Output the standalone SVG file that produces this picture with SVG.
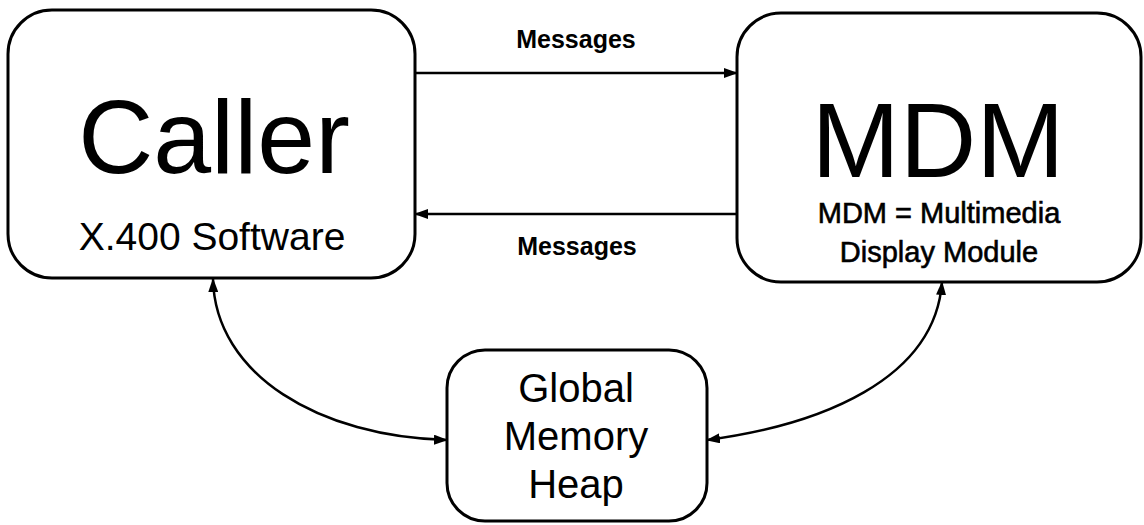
<svg xmlns="http://www.w3.org/2000/svg" width="1144" height="525" viewBox="0 0 1144 525">
  <style>
    .box { fill: #fff; stroke: #000; stroke-width: 3; }
    .edge { fill: none; stroke: #000; stroke-width: 2.5; }
    .t { font-family: "Liberation Sans", Arial, sans-serif; fill: #000; text-anchor: middle; }
    .lbl { font-family: "Liberation Sans", Arial, sans-serif; font-weight: bold; font-size: 25px; fill: #000; text-anchor: middle; }
  </style>
  <defs>
    <marker id="arrow" viewBox="0 0 14 10" refX="13" refY="5" markerWidth="14" markerHeight="10" markerUnits="userSpaceOnUse" orient="auto-start-reverse">
      <path d="M0,0 L14,5 L0,10 Z" fill="#000"/>
    </marker>
  </defs>

  <g id="caller">
    <rect class="box" x="8" y="10" width="407" height="268" rx="44" ry="44"/>
    <text class="t" x="214" y="173" font-size="104">Caller</text>
    <text class="t" x="212" y="250" font-size="39">X.400 Software</text>
  </g>

  <g id="mdm">
    <rect class="box" x="737" y="13" width="404" height="269" rx="44" ry="44"/>
    <text class="t" x="938" y="177" font-size="106">MDM</text>
    <text class="t" x="939" y="223" font-size="29" stroke="#000" stroke-width="0.6">MDM = Multimedia</text>
    <text class="t" x="939" y="262" font-size="29" stroke="#000" stroke-width="0.6">Display Module</text>
  </g>

  <g id="heap">
    <rect class="box" x="447" y="350" width="260" height="171" rx="38" ry="38"/>
    <text class="t" x="576" y="402" font-size="40">Global</text>
    <text class="t" x="576" y="450" font-size="40">Memory</text>
    <text class="t" x="576" y="498" font-size="40">Heap</text>
  </g>

  <g id="connectors">
    <path class="edge" d="M415,73 L737,73" marker-end="url(#arrow)"/>
    <text class="lbl" x="576" y="48">Messages</text>
    <path class="edge" d="M737,214 L415,214" marker-end="url(#arrow)"/>
    <text class="lbl" x="577" y="255">Messages</text>
    <path class="edge" d="M213,279 C215,375 320,437 447,440" marker-start="url(#arrow)" marker-end="url(#arrow)"/>
    <path class="edge" d="M942,282 C935,380 820,425 707,440" marker-start="url(#arrow)" marker-end="url(#arrow)"/>
  </g>
</svg>
